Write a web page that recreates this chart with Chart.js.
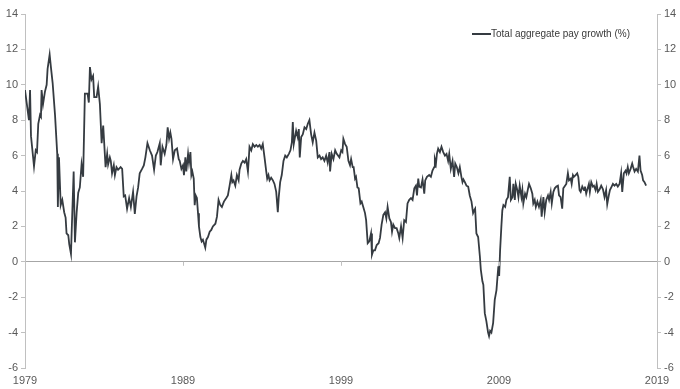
<!DOCTYPE html>
<html>
<head>
<meta charset="utf-8">
<script src="https://cdn.jsdelivr.net/npm/chart.js@4.4.0/dist/chart.umd.min.js"></script>
<style>
    html, body { margin: 0; padding: 0; background: #ffffff; }
    #wrap { width: 680px; height: 389px; }
</style>
</head>
<body>
<div id="wrap"><canvas id="chartPay" width="680" height="389"></canvas></div>
<script>
// Total aggregate pay growth (%) (decimal years)
const years = [
    1979.00, 1979.25, 1979.32, 1979.38, 1979.57, 1979.68, 1979.76, 1979.84, 1979.95, 1980.01,
    1980.05, 1980.14, 1980.26, 1980.37, 1980.43, 1980.56, 1980.64, 1980.75, 1980.90, 1981.04,
    1981.08, 1981.15, 1981.26, 1981.36, 1981.48, 1981.57, 1981.63, 1981.74, 1981.80, 1981.91,
    1981.99, 1982.08, 1982.16, 1982.27, 1982.37, 1982.47, 1982.58, 1982.68, 1982.79, 1982.96,
    1983.04, 1983.11, 1983.21, 1983.31, 1983.38, 1983.53, 1983.63, 1983.74, 1983.85, 1983.95,
    1984.10, 1984.20, 1984.26, 1984.37, 1984.43, 1984.51, 1984.62, 1984.69, 1984.79, 1984.89,
    1985.05, 1985.15, 1985.25, 1985.34, 1985.46, 1985.59, 1985.70, 1985.84, 1985.95, 1986.06,
    1986.16, 1986.26, 1986.41, 1986.52, 1986.62, 1986.75, 1986.90, 1987.04, 1987.17, 1987.28,
    1987.38, 1987.53, 1987.59, 1987.70, 1987.84, 1987.95, 1988.03, 1988.12, 1988.20, 1988.27,
    1988.37, 1988.48, 1988.62, 1988.73, 1988.79, 1988.90, 1989.00, 1989.06, 1989.15, 1989.21,
    1989.32, 1989.38, 1989.47, 1989.53, 1989.59, 1989.68, 1989.74, 1989.80, 1989.88, 1989.95,
    1990.01, 1990.10, 1990.18, 1990.26, 1990.33, 1990.41, 1990.48, 1990.58, 1990.69, 1990.79,
    1990.89, 1991.05, 1991.15, 1991.25, 1991.36, 1991.46, 1991.59, 1991.74, 1991.84, 1991.95,
    1992.06, 1992.12, 1992.20, 1992.31, 1992.41, 1992.52, 1992.58, 1992.69, 1992.79, 1992.90,
    1993.00, 1993.11, 1993.17, 1993.21, 1993.32, 1993.42, 1993.53, 1993.64, 1993.74, 1993.85,
    1993.95, 1994.05, 1994.16, 1994.27, 1994.33, 1994.41, 1994.48, 1994.58, 1994.69, 1994.79,
    1994.90, 1995.00, 1995.06, 1995.15, 1995.25, 1995.36, 1995.47, 1995.57, 1995.70, 1995.80,
    1995.89, 1995.95, 1996.01, 1996.10, 1996.16, 1996.26, 1996.33, 1996.39, 1996.48, 1996.58,
    1996.69, 1996.80, 1996.90, 1997.00, 1997.11, 1997.21, 1997.32, 1997.43, 1997.53, 1997.64,
    1997.74, 1997.84, 1997.95, 1998.06, 1998.16, 1998.27, 1998.31, 1998.41, 1998.52, 1998.63,
    1998.73, 1998.90, 1999.01, 1999.09, 1999.15, 1999.26, 1999.36, 1999.47, 1999.57, 1999.64,
    1999.74, 1999.80, 1999.89, 1999.95, 2000.04, 2000.12, 2000.23, 2000.31, 2000.41, 2000.52,
    2000.59, 2000.69, 2000.79, 2000.90, 2000.96, 2001.05, 2001.15, 2001.26, 2001.38, 2001.47,
    2001.57, 2001.68, 2001.79, 2001.87, 2001.95, 2002.06, 2002.16, 2002.23, 2002.31, 2002.42,
    2002.52, 2002.63, 2002.69, 2002.80, 2002.90, 2003.00, 2003.11, 2003.21, 2003.32, 2003.43,
    2003.53, 2003.64, 2003.74, 2003.81, 2003.89, 2003.95, 2004.06, 2004.16, 2004.27, 2004.33,
    2004.44, 2004.58, 2004.69, 2004.79, 2004.90, 2004.94, 2005.01, 2005.07, 2005.15, 2005.26,
    2005.36, 2005.47, 2005.58, 2005.68, 2005.78, 2005.85, 2005.95, 2006.06, 2006.16, 2006.23,
    2006.33, 2006.43, 2006.52, 2006.62, 2006.69, 2006.75, 2006.84, 2006.94, 2007.05, 2007.15,
    2007.26, 2007.36, 2007.43, 2007.49, 2007.57, 2007.68, 2007.79, 2007.85, 2007.95, 2008.01,
    2008.10, 2008.20, 2008.31, 2008.37, 2008.44, 2008.52, 2008.63, 2008.73, 2008.84, 2008.90,
    2008.96, 2009.01, 2009.07, 2009.15, 2009.21, 2009.28, 2009.39, 2009.47, 2009.57, 2009.68,
    2009.75, 2009.85, 2009.91, 2010.00, 2010.06, 2010.16, 2010.23, 2010.31, 2010.42, 2010.48,
    2010.54, 2010.65, 2010.73, 2010.84, 2010.90, 2011.01, 2011.11, 2011.17, 2011.26, 2011.33,
    2011.43, 2011.53, 2011.64, 2011.70, 2011.81, 2011.89, 2011.99, 2012.10, 2012.17, 2012.27,
    2012.34, 2012.44, 2012.53, 2012.63, 2012.73, 2012.80, 2012.90, 2013.00, 2013.07, 2013.18,
    2013.26, 2013.36, 2013.43, 2013.54, 2013.60, 2013.68, 2013.74, 2013.85, 2013.95, 2014.02,
    2014.10, 2014.17, 2014.27, 2014.38, 2014.44, 2014.52, 2014.58, 2014.69, 2014.75, 2014.84,
    2014.94, 2015.01, 2015.11, 2015.18, 2015.26, 2015.37, 2015.47, 2015.58, 2015.68, 2015.78,
    2015.85, 2015.95, 2016.02, 2016.13, 2016.21, 2016.31, 2016.42, 2016.52, 2016.63, 2016.73,
    2016.80, 2016.90, 2017.01, 2017.07, 2017.15, 2017.22, 2017.33, 2017.43, 2017.49, 2017.58,
    2017.68, 2017.79, 2017.89, 2017.96, 2018.06, 2018.12, 2018.21, 2018.31
];

const payGrowth = [
    9.7, 8.0, 9.7, 7.1, 5.4, 6.3, 6.2, 7.8, 8.3, 8.2,
    9.7, 8.9, 9.6, 10.0, 10.9, 11.7, 11.0, 10.1, 8.3, 6.1,
    3.1, 5.9, 3.2, 3.5, 2.8, 2.5, 1.6, 1.5, 1.0, 0.45,
    2.7, 5.1, 1.1, 2.8, 3.9, 4.2, 5.5, 4.8, 9.5, 9.5,
    9.0, 11.0, 10.3, 10.5, 9.3, 9.3, 9.9, 8.9, 6.7, 7.7,
    5.35, 6.1, 5.5, 5.9, 5.7, 5.0, 5.45, 4.9, 5.35, 5.2,
    5.35, 5.25, 3.7, 3.75, 3.0, 3.6, 3.1, 3.95, 2.7, 3.7,
    4.2, 5.0, 5.25, 5.45, 5.9, 6.7, 6.3, 6.0, 5.2, 6.0,
    6.2, 6.7, 5.45, 6.5, 6.1, 6.6, 7.6, 6.95, 7.3, 6.95,
    5.8, 6.3, 6.4, 5.8, 5.7, 5.25, 5.45, 4.9, 5.9, 5.1,
    6.1, 5.6, 6.2, 4.9, 5.1, 4.7, 3.2, 3.75, 3.6, 2.75,
    2.0, 1.4, 1.15, 1.25, 1.05, 0.8, 1.25, 1.4, 1.7, 1.8,
    2.0, 2.15, 2.55, 3.5, 3.2, 3.1, 3.4, 3.6, 3.75, 4.3,
    4.9, 4.5, 4.6, 4.3, 4.9, 4.6, 5.2, 5.55, 5.7, 5.6,
    5.8, 5.1, 5.9, 6.5, 6.3, 6.65, 6.5, 6.6, 6.5, 6.6,
    6.4, 6.65, 5.9, 5.1, 4.7, 4.9, 4.6, 4.75, 4.6, 4.4,
    3.95, 2.8, 3.65, 4.5, 4.9, 5.7, 6.0, 5.9, 6.1, 6.3,
    6.75, 7.9, 6.65, 7.1, 7.4, 7.05, 7.5, 5.9, 7.05, 7.2,
    7.6, 7.5, 7.8, 8.0, 7.2, 6.75, 7.3, 6.85, 5.9, 6.0,
    5.8, 5.9, 5.7, 6.0, 5.6, 6.2, 5.1, 6.1, 5.8, 6.3,
    6.1, 5.9, 6.3, 6.2, 6.95, 6.65, 6.5, 5.7, 5.45, 5.8,
    5.35, 5.35, 4.7, 4.8, 4.2, 4.15, 3.3, 3.4, 3.1, 2.75,
    2.35, 1.05, 1.15, 1.6, 0.4, 0.65, 0.65, 0.95, 1.05, 1.35,
    2.1, 2.65, 2.8, 2.45, 3.1, 2.45, 2.25, 1.7, 2.1, 1.9,
    1.9, 1.6, 1.35, 2.0, 1.35, 2.35, 2.25, 3.3, 3.5, 3.6,
    3.5, 4.15, 4.3, 3.75, 4.7, 4.25, 4.2, 4.65, 3.85, 4.6,
    4.8, 4.9, 4.8, 5.15, 5.35, 5.8, 5.55, 6.1, 6.4, 6.2,
    6.5, 6.2, 6.0, 6.1, 5.7, 6.1, 5.25, 5.7, 4.8, 5.55,
    5.35, 5.0, 5.35, 4.8, 4.5, 4.65, 4.5, 4.3, 4.25, 3.75,
    3.4, 2.75, 2.9, 3.0, 1.6, 1.4, 0.3, -0.45, -1.1, -1.3,
    -2.9, -3.35, -4.0, -4.2, -3.9, -4.0, -3.45, -2.15, -1.6, -0.9,
    -0.25, -0.8, 0.65, 2.0, 2.9, 3.2, 3.1, 3.5, 3.65, 4.8,
    3.5, 3.65, 4.4, 3.5, 4.4, 4.05, 3.65, 4.3, 3.65, 4.05,
    3.3, 3.85, 3.65, 4.15, 4.4, 4.15, 3.85, 3.3, 3.5, 3.1,
    3.4, 3.1, 3.5, 2.55, 3.65, 2.8, 3.5, 3.75, 3.5, 3.95,
    3.3, 3.95, 4.15, 4.25, 4.3, 3.75, 3.65, 3.0, 4.15, 4.3,
    4.4, 5.0, 4.6, 4.7, 4.4, 4.9, 4.8, 4.9, 5.0, 4.8,
    4.05, 3.95, 4.25, 4.05, 4.25, 3.85, 4.05, 4.4, 3.95, 4.5,
    4.25, 4.3, 4.05, 4.4, 3.95, 4.1, 4.3, 4.1, 3.65, 4.05,
    3.25, 3.75, 4.05, 4.25, 4.4, 4.3, 4.4, 4.25, 4.4, 5.0,
    3.95, 5.0, 5.15, 5.0, 5.35, 5.0, 5.25, 5.55, 5.35, 5.1,
    5.25, 5.1, 6.0, 5.15, 4.9, 4.6, 4.5, 4.3
];

// Axis ticks
const yTicks = [-6, -4, -2, 0, 2, 4, 6, 8, 10, 12, 14];
const xTicks = [1979, 1989, 1999, 2009, 2019];

const legendLabel = 'Total aggregate pay growth (%)';

const lineColor = '#353b41';
const axisColor = '#c0c0c0';
const textColor = '#595959';
const fontFamily = '"Liberation Sans", Arial, sans-serif';

// Légende dans la zone du graphique + petits repères sur la ligne zéro
const overlayPlugin = {
    id: 'overlay',
    afterDraw(chart) {
        const ctx = chart.ctx;
        const x = chart.scales.x;
        const y = chart.scales.y;
        const y0 = y.getPixelForValue(0);

        ctx.save();
        ctx.strokeStyle = axisColor;
        ctx.lineWidth = 1;
        xTicks.slice(1, -1).forEach(t => {
            const px = Math.round(x.getPixelForValue(t)) + 0.5;
            ctx.beginPath();
            ctx.moveTo(px, y0);
            ctx.lineTo(px, y0 + 4);
            ctx.stroke();
        });

        // legend
        ctx.strokeStyle = lineColor;
        ctx.lineWidth = 2;
        ctx.beginPath();
        ctx.moveTo(472, 34);
        ctx.lineTo(491, 34);
        ctx.stroke();
        ctx.fillStyle = '#3a3a3a';
        ctx.font = '10px ' + fontFamily;
        ctx.textBaseline = 'middle';
        ctx.textAlign = 'left';
        ctx.fillText(legendLabel, 491, 34);
        ctx.restore();
    }
};

const yAxisBase = {
    type: 'linear',
    min: -6,
    max: 14,
    afterBuildTicks: (axis) => { axis.ticks = yTicks.map(v => ({ value: v })); },
    ticks: {
        color: textColor,
        font: { family: fontFamily, size: 11 },
        padding: 3
    },
    border: { display: true, color: axisColor, width: 1 }
};

new Chart(document.getElementById('chartPay').getContext('2d'), {
    type: 'line',
    data: {
        datasets: [{
            label: legendLabel,
            data: years.map((yr, i) => ({ x: yr, y: payGrowth[i] })),
            borderColor: lineColor,
            borderWidth: 1.8,
            pointRadius: 0,
            tension: 0,
            fill: false
        }]
    },
    options: {
        responsive: false,
        animation: false,
        layout: { padding: { top: 14, left: 0, right: 0, bottom: 0 } },
        plugins: {
            legend: { display: false },
            tooltip: { enabled: false }
        },
        scales: {
            x: {
                type: 'linear',
                min: 1979,
                max: 2019,
                afterBuildTicks: (axis) => { axis.ticks = xTicks.map(v => ({ value: v })); },
                afterFit: (axis) => { axis.height = 21; },
                ticks: {
                    color: textColor,
                    font: { family: fontFamily, size: 11 },
                    padding: 6,
                    maxRotation: 0,
                    callback: (v) => String(v)
                },
                grid: { display: false, drawTicks: false },
                border: { display: false }
            },
            y: {
                ...yAxisBase,
                position: 'left',
                afterFit: (axis) => { axis.width = 25; },
                grid: {
                    drawTicks: true,
                    tickLength: 4,
                    tickColor: axisColor,
                    color: (c) => (c.tick && c.tick.value === 0) ? '#a6a6a6' : 'rgba(0,0,0,0)'
                }
            },
            y1: {
                ...yAxisBase,
                position: 'right',
                afterFit: (axis) => { axis.width = 23; },
                grid: {
                    drawOnChartArea: false,
                    drawTicks: true,
                    tickLength: 4,
                    tickColor: axisColor
                }
            }
        }
    },
    plugins: [overlayPlugin]
});
</script>
</body>
</html>
